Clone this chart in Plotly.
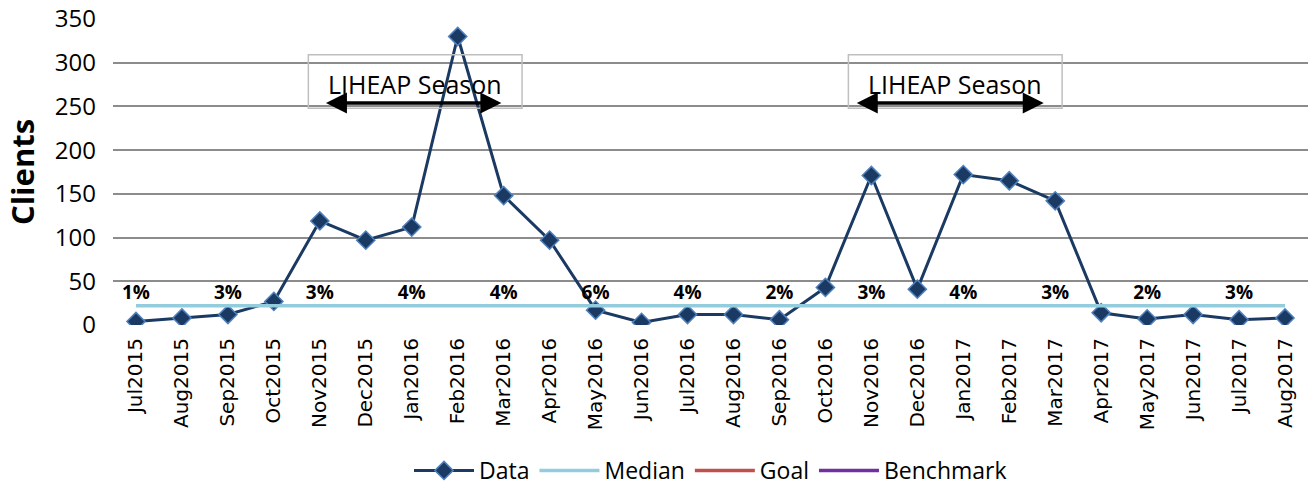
import plotly.graph_objects as go

months = ["Jul2015","Aug2015","Sep2015","Oct2015","Nov2015","Dec2015","Jan2016","Feb2016",
          "Mar2016","Apr2016","May2016","Jun2016","Jul2016","Aug2016","Sep2016","Oct2016",
          "Nov2016","Dec2016","Jan2017","Feb2017","Mar2017","Apr2017","May2017","Jun2017",
          "Jul2017","Aug2017"]
clients = [4, 8, 12, 27, 119, 97, 112, 330, 148, 97, 17, 3, 12, 12, 6, 43,
           171, 41, 172, 165, 142, 14, 7, 12, 6, 8]
median_value = 22
pct_months = ["Jul2015","Sep2015","Nov2015","Jan2016","Mar2016","May2016","Jul2016",
              "Sep2016","Nov2016","Jan2017","Mar2017","May2017","Jul2017"]
pct_labels = ["1%","3%","3%","4%","4%","6%","4%","2%","3%","4%","3%","2%","3%"]
pct_y = 35
season_label = "LIHEAP Season"
# season box extents and arrow extents in category-index units
season_box_x0 = [3.75, 15.5]
season_box_x1 = [8.4, 20.15]
season_arrow_x0 = [4.1, 15.65]
season_arrow_x1 = [7.95, 19.75]

fig = go.Figure()
fig.add_trace(go.Scatter(
    x=months, y=clients, name="Data", mode="lines+markers",
    line=dict(color="#1B3A63", width=3),
    marker=dict(symbol="diamond", size=14, color="#1B3A63",
                line=dict(color="#4F81BD", width=1.5))))
fig.add_trace(go.Scatter(
    x=[months[0], months[-1]], y=[median_value, median_value], name="Median",
    mode="lines", line=dict(color="#93CDDD", width=3.5)))
fig.add_trace(go.Scatter(x=[None], y=[None], name="Goal", mode="lines",
                         line=dict(color="#C0504D", width=3.5)))
fig.add_trace(go.Scatter(x=[None], y=[None], name="Benchmark", mode="lines",
                         line=dict(color="#7030A0", width=3.5)))
fig.add_trace(go.Scatter(
    x=pct_months, y=[pct_y]*len(pct_months), text=pct_labels, mode="text",
    textfont=dict(family="Open Sans", size=19, color="black", weight="bold"),
    showlegend=False, hoverinfo="skip"))

for bx0, bx1, ax0, ax1 in zip(season_box_x0, season_box_x1, season_arrow_x0, season_arrow_x1):
    fig.add_shape(type="rect", xref="x", yref="y",
                  x0=bx0, x1=bx1, y0=248, y1=309,
                  line=dict(color="#BFBFBF", width=1.5), fillcolor="rgba(0,0,0,0)")
    fig.add_annotation(x=(bx0 + bx1) / 2, y=276, text=season_label, showarrow=False,
                       font=dict(family="Open Sans", size=25, color="black"))
    fig.add_annotation(x=ax1, y=254, ax=ax0, ay=254, xref="x", yref="y",
                       axref="x", ayref="y", text="", showarrow=True,
                       arrowhead=2, startarrowhead=2, arrowside="end+start",
                       arrowsize=1.2, startarrowsize=1.2, arrowwidth=3.5, arrowcolor="black")

fig.update_layout(
    width=1308, height=492,
    margin=dict(l=113, r=0, t=19, b=167, autoexpand=False),
    paper_bgcolor="white", plot_bgcolor="white",
    font=dict(family="Open Sans", color="black"),
    legend=dict(orientation="h", x=0.5, xanchor="center",
                yref="container", y=0.0, yanchor="bottom",
                font=dict(size=23), itemwidth=60, traceorder="normal",
                tracegroupgap=0),
    showlegend=True,
)
fig.update_yaxes(range=[0, 350], dtick=50, showgrid=True, gridcolor="#8C8C8C",
                 gridwidth=1.5, zeroline=False, showline=False, automargin=False,
                 tickfont=dict(size=24, family="Open Sans"), ticks="",
                 ticklabelstandoff=16, ticklabeloverflow="allow",
                 title=dict(text="Clients", font=dict(size=31, family="Open Sans", weight="bold"),
                            standoff=10))
fig.update_xaxes(type="category", range=[-0.5, len(months) - 0.5], showgrid=False,
                 zeroline=False, showline=False, tickangle=-90, ticks="", automargin=False,
                 ticklabelstandoff=8,
                 tickfont=dict(size=20, family="DejaVu Sans"))

fig.write_html("out.html")
